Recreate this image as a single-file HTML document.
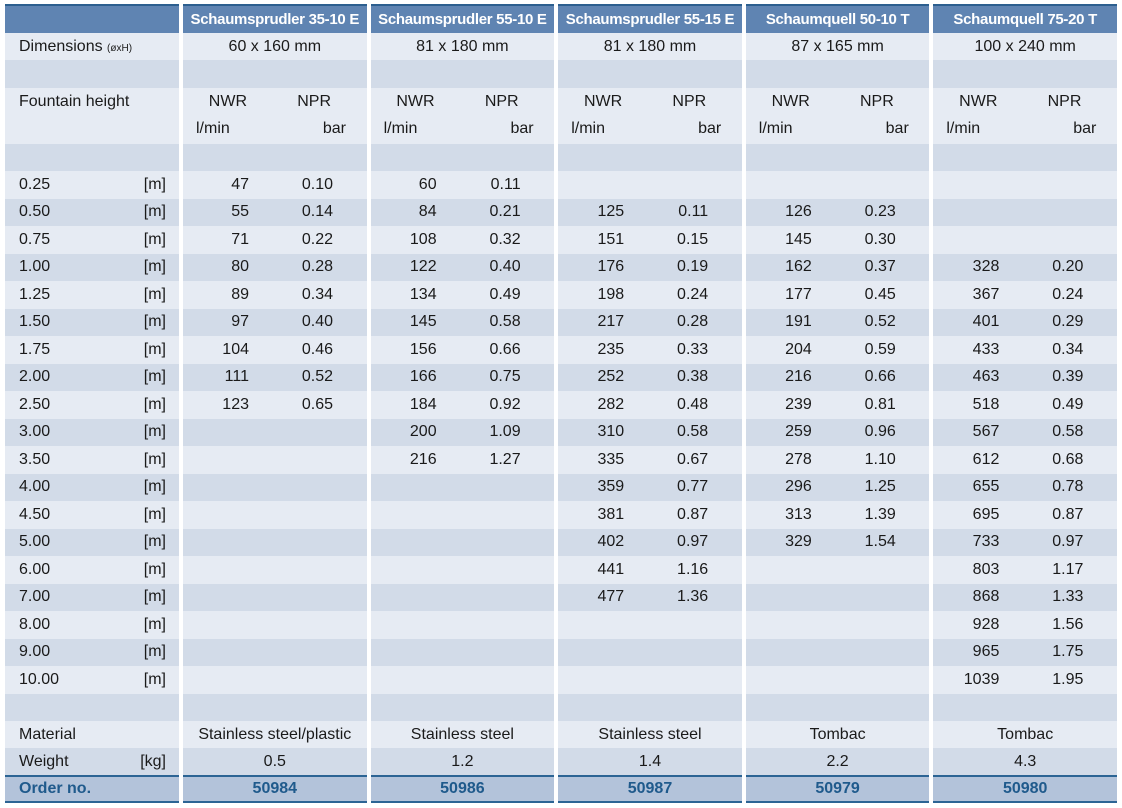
<!DOCTYPE html>
<html><head><meta charset="utf-8"><style>
body{margin:0;width:1122px;height:808px;background:#fff;overflow:hidden;font-family:"Liberation Sans",sans-serif;color:#1a1a1a}
table{position:absolute;left:1px;top:4px;border-collapse:separate;border-spacing:4px 0;table-layout:fixed;width:1120px}
td{padding:0;font-size:16px;white-space:nowrap;overflow:hidden;vertical-align:middle}
col.l{width:174px}
tr.h td{background:#5f84b2;color:#fff;font-weight:bold;font-size:15px;text-align:center;height:27px;border-top:2px solid #2c5f8f;letter-spacing:-0.3px}
tr.a td{background:#e6ebf3}
tr.b td{background:#d2dbe8}
tr.d td{height:27.5px}
tr.o td{background:#b3c3da;color:#1f5a8c;font-weight:bold;height:24px;border-top:2px solid #2c6494;border-bottom:2px solid #2c6494}
.c{text-align:center}
.lab{padding-left:14px;position:relative}
.u{position:absolute;right:13px;top:50%;transform:translateY(-50%)}
.n{display:inline-block;width:66px;text-align:right}
.p{display:inline-block;width:84px;text-align:right}
.f td{height:54px;vertical-align:top}
.f .lab{padding-top:2px}
.f .lab span{position:relative;top:3px}
.hd{padding-top:0px;line-height:27px}
.hd .w{display:inline-block;width:64px;text-align:right}
.hd .w2{display:inline-block;width:25px;margin-left:13px;text-align:left}
</style></head><body>
<table>
<colgroup><col class="l"><col><col><col><col><col></colgroup>
<tr class="h"><td></td><td>Schaumsprudler 35-10 E</td><td>Schaumsprudler 55-10 E</td><td>Schaumsprudler 55-15 E</td><td>Schaumquell 50-10 T</td><td>Schaumquell 75-20 T</td></tr>
<tr class="a"><td class="lab" style="height:27px">Dimensions <span style="font-size:10px">(øxH)</span></td><td class="c">60 x 160 mm</td><td class="c">81 x 180 mm</td><td class="c">81 x 180 mm</td><td class="c">87 x 165 mm</td><td class="c">100 x 240 mm</td></tr>
<tr class="b"><td style="height:28px"></td><td></td><td></td><td></td><td></td><td></td></tr>
<tr class="a f"><td class="lab"><span>Fountain height</span></td>
<td class="hd"><span class="w">NWR</span><span class="p">NPR</span><br><span class="w2">l/min</span><span class="p" style="width:125px">bar</span></td>
<td class="hd"><span class="w">NWR</span><span class="p">NPR</span><br><span class="w2">l/min</span><span class="p" style="width:125px">bar</span></td>
<td class="hd"><span class="w">NWR</span><span class="p">NPR</span><br><span class="w2">l/min</span><span class="p" style="width:125px">bar</span></td>
<td class="hd"><span class="w">NWR</span><span class="p">NPR</span><br><span class="w2">l/min</span><span class="p" style="width:125px">bar</span></td>
<td class="hd"><span class="w">NWR</span><span class="p">NPR</span><br><span class="w2">l/min</span><span class="p" style="width:125px">bar</span></td></tr>
<tr class="b"><td style="height:27px"></td><td></td><td></td><td></td><td></td><td></td></tr>
<tr class="a d"><td class="lab">0.25<span class="u">[m]</span></td><td><span class="n">47</span><span class="p">0.10</span></td><td><span class="n">60</span><span class="p">0.11</span></td><td></td><td></td><td></td></tr>
<tr class="b d"><td class="lab">0.50<span class="u">[m]</span></td><td><span class="n">55</span><span class="p">0.14</span></td><td><span class="n">84</span><span class="p">0.21</span></td><td><span class="n">125</span><span class="p">0.11</span></td><td><span class="n">126</span><span class="p">0.23</span></td><td></td></tr>
<tr class="a d"><td class="lab">0.75<span class="u">[m]</span></td><td><span class="n">71</span><span class="p">0.22</span></td><td><span class="n">108</span><span class="p">0.32</span></td><td><span class="n">151</span><span class="p">0.15</span></td><td><span class="n">145</span><span class="p">0.30</span></td><td></td></tr>
<tr class="b d"><td class="lab">1.00<span class="u">[m]</span></td><td><span class="n">80</span><span class="p">0.28</span></td><td><span class="n">122</span><span class="p">0.40</span></td><td><span class="n">176</span><span class="p">0.19</span></td><td><span class="n">162</span><span class="p">0.37</span></td><td><span class="n">328</span><span class="p">0.20</span></td></tr>
<tr class="a d"><td class="lab">1.25<span class="u">[m]</span></td><td><span class="n">89</span><span class="p">0.34</span></td><td><span class="n">134</span><span class="p">0.49</span></td><td><span class="n">198</span><span class="p">0.24</span></td><td><span class="n">177</span><span class="p">0.45</span></td><td><span class="n">367</span><span class="p">0.24</span></td></tr>
<tr class="b d"><td class="lab">1.50<span class="u">[m]</span></td><td><span class="n">97</span><span class="p">0.40</span></td><td><span class="n">145</span><span class="p">0.58</span></td><td><span class="n">217</span><span class="p">0.28</span></td><td><span class="n">191</span><span class="p">0.52</span></td><td><span class="n">401</span><span class="p">0.29</span></td></tr>
<tr class="a d"><td class="lab">1.75<span class="u">[m]</span></td><td><span class="n">104</span><span class="p">0.46</span></td><td><span class="n">156</span><span class="p">0.66</span></td><td><span class="n">235</span><span class="p">0.33</span></td><td><span class="n">204</span><span class="p">0.59</span></td><td><span class="n">433</span><span class="p">0.34</span></td></tr>
<tr class="b d"><td class="lab">2.00<span class="u">[m]</span></td><td><span class="n">111</span><span class="p">0.52</span></td><td><span class="n">166</span><span class="p">0.75</span></td><td><span class="n">252</span><span class="p">0.38</span></td><td><span class="n">216</span><span class="p">0.66</span></td><td><span class="n">463</span><span class="p">0.39</span></td></tr>
<tr class="a d"><td class="lab">2.50<span class="u">[m]</span></td><td><span class="n">123</span><span class="p">0.65</span></td><td><span class="n">184</span><span class="p">0.92</span></td><td><span class="n">282</span><span class="p">0.48</span></td><td><span class="n">239</span><span class="p">0.81</span></td><td><span class="n">518</span><span class="p">0.49</span></td></tr>
<tr class="b d"><td class="lab">3.00<span class="u">[m]</span></td><td></td><td><span class="n">200</span><span class="p">1.09</span></td><td><span class="n">310</span><span class="p">0.58</span></td><td><span class="n">259</span><span class="p">0.96</span></td><td><span class="n">567</span><span class="p">0.58</span></td></tr>
<tr class="a d"><td class="lab">3.50<span class="u">[m]</span></td><td></td><td><span class="n">216</span><span class="p">1.27</span></td><td><span class="n">335</span><span class="p">0.67</span></td><td><span class="n">278</span><span class="p">1.10</span></td><td><span class="n">612</span><span class="p">0.68</span></td></tr>
<tr class="b d"><td class="lab">4.00<span class="u">[m]</span></td><td></td><td></td><td><span class="n">359</span><span class="p">0.77</span></td><td><span class="n">296</span><span class="p">1.25</span></td><td><span class="n">655</span><span class="p">0.78</span></td></tr>
<tr class="a d"><td class="lab">4.50<span class="u">[m]</span></td><td></td><td></td><td><span class="n">381</span><span class="p">0.87</span></td><td><span class="n">313</span><span class="p">1.39</span></td><td><span class="n">695</span><span class="p">0.87</span></td></tr>
<tr class="b d"><td class="lab">5.00<span class="u">[m]</span></td><td></td><td></td><td><span class="n">402</span><span class="p">0.97</span></td><td><span class="n">329</span><span class="p">1.54</span></td><td><span class="n">733</span><span class="p">0.97</span></td></tr>
<tr class="a d"><td class="lab">6.00<span class="u">[m]</span></td><td></td><td></td><td><span class="n">441</span><span class="p">1.16</span></td><td></td><td><span class="n">803</span><span class="p">1.17</span></td></tr>
<tr class="b d"><td class="lab">7.00<span class="u">[m]</span></td><td></td><td></td><td><span class="n">477</span><span class="p">1.36</span></td><td></td><td><span class="n">868</span><span class="p">1.33</span></td></tr>
<tr class="a d"><td class="lab">8.00<span class="u">[m]</span></td><td></td><td></td><td></td><td></td><td><span class="n">928</span><span class="p">1.56</span></td></tr>
<tr class="b d"><td class="lab">9.00<span class="u">[m]</span></td><td></td><td></td><td></td><td></td><td><span class="n">965</span><span class="p">1.75</span></td></tr>
<tr class="a d"><td class="lab">10.00<span class="u">[m]</span></td><td></td><td></td><td></td><td></td><td><span class="n">1039</span><span class="p">1.95</span></td></tr>
<tr class="b d"><td></td><td></td><td></td><td></td><td></td><td></td></tr>
<tr class="a"><td class="lab" style="height:27px">Material</td><td class="c">Stainless steel/plastic</td><td class="c">Stainless steel</td><td class="c">Stainless steel</td><td class="c">Tombac</td><td class="c">Tombac</td></tr>
<tr class="b"><td class="lab" style="height:27px">Weight<span class="u">[kg]</span></td><td class="c">0.5</td><td class="c">1.2</td><td class="c">1.4</td><td class="c">2.2</td><td class="c">4.3</td></tr>
<tr class="o"><td class="lab">Order no.</td><td class="c">50984</td><td class="c">50986</td><td class="c">50987</td><td class="c">50979</td><td class="c">50980</td></tr>
</table>
</body></html>
